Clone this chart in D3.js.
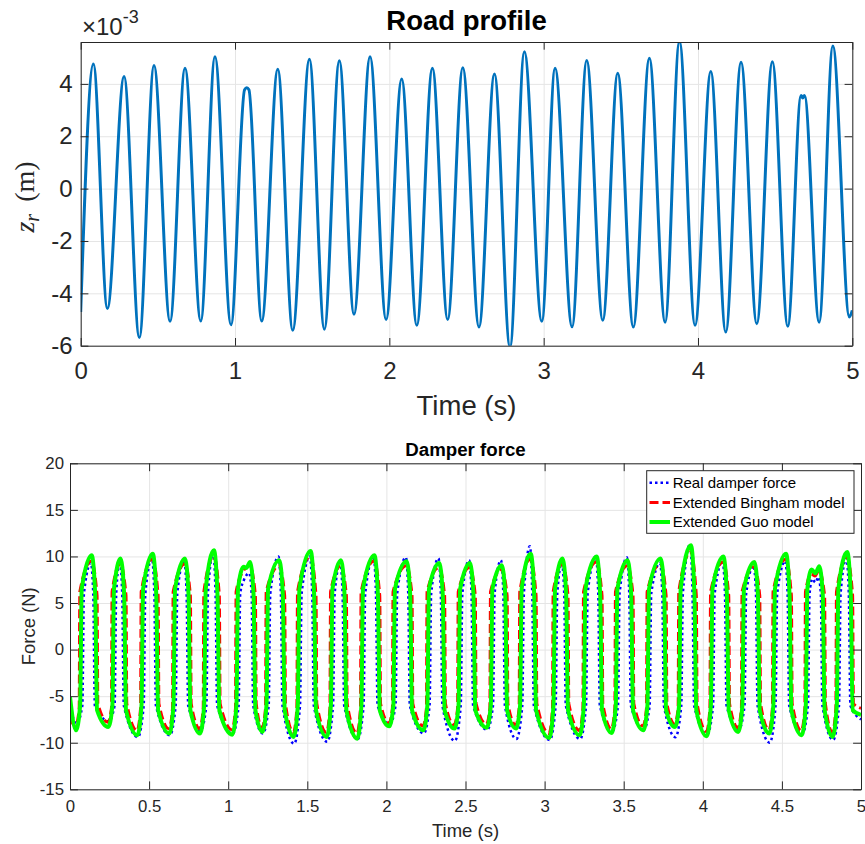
<!DOCTYPE html>
<html><head><meta charset="utf-8">
<script src="https://cdn.jsdelivr.net/npm/d3@7"></script>
<style>body{margin:0;background:#fff} svg{display:block}</style>
</head><body>
<svg id="c" width="865" height="844"></svg>
<script>
// ---------- DATA ----------
// Road profile z_r (x 1e-3 m) vs time (s)
const roadProfile = [
[0,-4.71],[0.082,4.76],[0.173,-4.58],[0.281,4.28],[0.380,-5.69],[0.475,4.70],[0.579,-5.07],[0.676,4.60],
[0.778,-5.06],[0.870,5.04],[0.974,-5.20],[1.062,3.78],[1.076,3.85],[1.090,3.78],[1.173,-5.06],[1.277,4.56],
[1.374,-5.41],[1.482,4.94],[1.579,-5.37],[1.676,4.88],[1.771,-4.80],[1.875,5.04],[1.979,-5.00],[2.080,4.19],
[2.178,-5.22],[2.279,4.60],[2.378,-5.00],[2.476,4.62],[2.581,-5.29],[2.681,4.38],[2.782,-6.05],[2.875,5.23],
[2.988,-5.07],[3.074,4.60],[3.184,-5.28],[3.279,4.89],[3.383,-5.03],[3.480,4.41],[3.581,-5.29],[3.685,4.98],
[3.787,-5.10],[3.880,5.62],[3.981,-5.22],[4.083,4.47],[4.180,-5.48],[4.279,4.83],[4.381,-5.16],[4.482,4.85],
[4.582,-5.26],[4.668,3.56],[4.679,3.46],[4.690,3.56],[4.785,-5.10],[4.874,5.45],[4.981,-4.90],[5.0,-4.65]
];

// Damper force (N) vs time (s)
const realForce = [
[0,-6.0],
[0.041,-8.0],[0.078,-6],[0.088,6],[0.132,9.3],[0.147,6],[0.157,-6],
[0.245,-7.7],[0.282,-6],[0.292,6],[0.315,9.5],[0.330,6],[0.340,-6],
[0.429,-9.4],[0.466,-6],[0.476,6],[0.518,9.8],[0.533,6],[0.543,-6],
[0.631,-9.2],[0.668,-6],[0.678,6],[0.722,9.6],[0.737,6],[0.747,-6],
[0.825,-8.7],[0.862,-6],[0.872,6],[0.905,10.4],[0.920,6],[0.930,-6],
[1.029,-9.0],[1.066,-6],[1.076,6],[1.100,7.5],[1.133,8.2],[1.148,6],[1.158,-6],
[1.219,-9.0],[1.256,-6],[1.266,6],[1.318,10.0],[1.333,6],[1.343,-6],
[1.417,-10.1],[1.454,-6],[1.464,6],[1.516,10.0],[1.531,6],[1.541,-6],
[1.626,-9.9],[1.663,-6],[1.673,6],[1.708,9.3],[1.723,6],[1.733,-6],
[1.819,-9.6],[1.856,-6],[1.866,6],[1.919,10.0],[1.934,6],[1.944,-6],
[2.021,-8.0],[2.058,-6],[2.068,6],[2.123,9.9],[2.138,6],[2.148,-6],
[2.236,-9.0],[2.273,-6],[2.283,6],[2.329,9.8],[2.344,6],[2.354,-6],
[2.433,-9.8],[2.470,-6],[2.480,6],[2.523,9.6],[2.538,6],[2.548,-6],
[2.637,-8.6],[2.674,-6],[2.684,6],[2.724,9.6],[2.739,6],[2.749,-6],
[2.822,-9.6],[2.859,-6],[2.869,6],[2.907,11.1],[2.922,6],[2.932,-6],
[3.033,-9.7],[3.070,-6],[3.080,6],[3.109,9.3],[3.124,6],[3.134,-6],
[3.225,-9.6],[3.262,-6],[3.272,6],[3.324,10.0],[3.339,6],[3.349,-6],
[3.427,-8.8],[3.464,-6],[3.474,6],[3.520,9.9],[3.535,6],[3.545,-6],
[3.627,-8.6],[3.664,-6],[3.674,6],[3.729,9.3],[3.744,6],[3.754,-6],
[3.827,-9.4],[3.864,-6],[3.874,6],[3.920,11.3],[3.935,6],[3.945,-6],
[4.028,-9.1],[4.065,-6],[4.075,6],[4.125,9.5],[4.140,6],[4.150,-6],
[4.227,-8.6],[4.264,-6],[4.274,6],[4.321,9.0],[4.336,6],[4.346,-6],
[4.423,-10.0],[4.460,-6],[4.470,6],[4.521,9.5],[4.536,6],[4.546,-6],
[4.628,-9.1],[4.665,-6],[4.675,6],[4.692,7.6],[4.712,7.2],[4.731,7.8],[4.746,6],[4.756,-6],
[4.824,-9.7],[4.861,-6],[4.871,6],[4.908,9.8],[4.923,6],[4.933,-6],[5.0,-7.5]
];

const binghamForce = [
[0,-7.5],
[0.036,-8.2],[0.058,-6.3],[0.062,6.2],[0.135,9.5],[0.171,5.8],[0.176,-5.8],
[0.240,-7.8],[0.262,-6.3],[0.266,6.2],[0.318,9.2],[0.354,5.8],[0.359,-5.8],
[0.424,-8.7],[0.446,-6.3],[0.450,6.2],[0.521,9.7],[0.557,5.8],[0.562,-5.8],
[0.626,-8.5],[0.648,-6.3],[0.652,6.2],[0.725,9.2],[0.761,5.8],[0.766,-5.8],
[0.820,-8.5],[0.842,-6.3],[0.846,6.2],[0.908,10.0],[0.944,5.8],[0.949,-5.8],
[1.024,-8.6],[1.046,-6.3],[1.050,6.2],[1.098,8.5],[1.136,9.0],[1.172,5.8],[1.177,-5.8],
[1.214,-8.4],[1.236,-6.3],[1.240,6.2],[1.321,9.0],[1.357,5.8],[1.362,-5.8],
[1.412,-8.9],[1.434,-6.3],[1.438,6.2],[1.519,10.0],[1.555,5.8],[1.560,-5.8],
[1.621,-8.9],[1.643,-6.3],[1.647,6.2],[1.711,9.0],[1.747,5.8],[1.752,-5.8],
[1.814,-9.0],[1.836,-6.3],[1.840,6.2],[1.922,9.5],[1.958,5.8],[1.963,-5.8],
[2.016,-7.9],[2.038,-6.3],[2.042,6.2],[2.126,9.0],[2.162,5.8],[2.167,-5.8],
[2.231,-8.2],[2.253,-6.3],[2.257,6.2],[2.332,8.8],[2.368,5.8],[2.373,-5.8],
[2.428,-8.1],[2.450,-6.3],[2.454,6.2],[2.526,8.8],[2.562,5.8],[2.567,-5.8],
[2.632,-8.0],[2.654,-6.3],[2.658,6.2],[2.727,8.6],[2.763,5.8],[2.768,-5.8],
[2.817,-8.1],[2.839,-6.3],[2.843,6.2],[2.910,9.7],[2.946,5.8],[2.951,-5.8],
[3.028,-9.0],[3.050,-6.3],[3.054,6.2],[3.112,9.2],[3.148,5.8],[3.153,-5.8],
[3.220,-8.7],[3.242,-6.3],[3.246,6.2],[3.327,9.4],[3.363,5.8],[3.368,-5.8],
[3.422,-8.5],[3.444,-6.3],[3.448,6.2],[3.523,9.0],[3.559,5.8],[3.564,-5.8],
[3.622,-8.2],[3.644,-6.3],[3.648,6.2],[3.732,9.2],[3.768,5.8],[3.773,-5.8],
[3.822,-8.0],[3.844,-6.3],[3.848,6.2],[3.923,10.5],[3.959,5.8],[3.964,-5.8],
[4.023,-8.8],[4.045,-6.3],[4.049,6.2],[4.128,9.4],[4.164,5.8],[4.169,-5.8],
[4.222,-8.4],[4.244,-6.3],[4.248,6.2],[4.324,8.9],[4.360,5.8],[4.365,-5.8],
[4.418,-8.6],[4.440,-6.3],[4.444,6.2],[4.524,9.7],[4.560,5.8],[4.565,-5.8],
[4.623,-8.7],[4.645,-6.3],[4.649,6.2],[4.686,8.1],[4.710,7.9],[4.734,8.5],[4.770,5.8],[4.775,-5.8],
[4.819,-8.9],[4.841,-6.3],[4.845,6.2],[4.911,9.9],[4.947,5.8],[4.952,-5.8],[5.0,-6.3]
];

const guoForce = [
[0,-5.1],
[0.038,-8.66],[0.064,-6],[0.074,6.5],[0.137,10.12],[0.159,6],[0.171,-6.5],
[0.242,-8.31],[0.268,-6],[0.278,6.5],[0.320,9.77],[0.342,6],[0.354,-6.5],
[0.426,-9.2],[0.452,-6],[0.462,6.5],[0.523,10.3],[0.545,6],[0.557,-6.5],
[0.628,-9.02],[0.654,-6],[0.664,6.5],[0.727,9.77],[0.749,6],[0.761,-6.5],
[0.822,-9.02],[0.848,-6],[0.858,6.5],[0.910,10.66],[0.932,6],[0.944,-6.5],
[1.026,-9.13],[1.052,-6],[1.062,6.5],[1.098,8.9],[1.114,8.75],[1.138,9.41],[1.160,6],[1.172,-6.5],
[1.216,-8.84],[1.242,-6],[1.252,6.5],[1.323,9.59],[1.345,6],[1.357,-6.5],
[1.414,-9.38],[1.440,-6],[1.450,6.5],[1.521,10.59],[1.543,6],[1.555,-6.5],
[1.623,-9.38],[1.649,-6],[1.659,6.5],[1.713,9.59],[1.735,6],[1.747,-6.5],
[1.816,-9.56],[1.842,-6],[1.852,6.5],[1.924,10.12],[1.946,6],[1.958,-6.5],
[2.018,-8.24],[2.044,-6],[2.054,6.5],[2.128,9.48],[2.150,6],[2.162,-6.5],
[2.233,-8.66],[2.259,-6],[2.269,6.5],[2.334,9.3],[2.356,6],[2.368,-6.5],
[2.430,-8.48],[2.456,-6],[2.466,6.5],[2.528,9.3],[2.550,6],[2.562,-6.5],
[2.634,-8.38],[2.660,-6],[2.670,6.5],[2.729,9.05],[2.751,6],[2.763,-6.5],
[2.819,-8.48],[2.845,-6],[2.855,6.5],[2.912,10.3],[2.934,6],[2.946,-6.5],
[3.030,-9.49],[3.056,-6],[3.066,6.5],[3.114,9.77],[3.136,6],[3.148,-6.5],
[3.222,-9.2],[3.248,-6],[3.258,6.5],[3.329,10.0],[3.351,6],[3.363,-6.5],
[3.424,-8.95],[3.450,-6],[3.460,6.5],[3.525,9.59],[3.547,6],[3.559,-6.5],
[3.624,-8.66],[3.650,-6],[3.660,6.5],[3.734,9.77],[3.756,6],[3.768,-6.5],
[3.824,-8.31],[3.850,-6],[3.860,6.5],[3.925,11.2],[3.947,6],[3.959,-6.5],
[4.025,-9.31],[4.051,-6],[4.061,6.5],[4.130,10.0],[4.152,6],[4.164,-6.5],
[4.224,-8.84],[4.250,-6],[4.260,6.5],[4.326,9.41],[4.348,6],[4.360,-6.5],
[4.420,-9.02],[4.446,-6],[4.456,6.5],[4.526,10.3],[4.548,6],[4.560,-6.5],
[4.625,-9.2],[4.651,-6],[4.661,6.5],[4.688,8.6],[4.712,8.2],[4.736,8.94],[4.758,6],[4.770,-6.5],
[4.821,-9.38],[4.847,-6],[4.857,6.5],[4.913,10.48],[4.935,6],[4.947,-6.5],[5.0,-7.0]
];

const topXTicks = [0,1,2,3,4,5];
const topYTicks = [-6,-4,-2,0,2,4];
const botXTicks = [0,0.5,1,1.5,2,2.5,3,3.5,4,4.5,5];
const botYTicks = [-15,-10,-5,0,5,10,15,20];
const legendLabels = ["Real damper force","Extended Bingham model","Extended Guo model"];

// ---------- DRAW ----------
const svg = d3.select("#c");
const FONT = "'Liberation Sans', Arial, Helvetica, sans-serif";
const AX = "#262626", GRID = "#e5e5e5";
const fmt = d => String(d);

function panel(o){
  const x = d3.scaleLinear().domain(o.xDom).range([o.x0,o.x1]);
  const y = d3.scaleLinear().domain(o.yDom).range([o.y1,o.y0]);
  const g = svg.append("g");
  const w = o.x1-o.x0, h = o.y1-o.y0;
  const gx = g.append("g").attr("transform",`translate(0,${o.y1})`)
    .call(d3.axisBottom(x).tickValues(o.xTicks).tickSize(-h).tickFormat(""));
  const gy = g.append("g").attr("transform",`translate(${o.x0},0)`)
    .call(d3.axisLeft(y).tickValues(o.yTicks).tickSize(-w).tickFormat(""));
  [gx,gy].forEach(s=>{ s.select(".domain").remove(); s.selectAll("line").attr("stroke",GRID).attr("stroke-width",1); });
  const cid = "clip"+o.id;
  svg.append("clipPath").attr("id",cid).append("rect").attr("x",o.x0).attr("y",o.y0).attr("width",w).attr("height",h);
  const plot = g.append("g").attr("clip-path",`url(#${cid})`);
  const ax = [
    g.append("g").attr("transform",`translate(0,${o.y1})`).call(d3.axisBottom(x).tickValues(o.xTicks).tickFormat(fmt).tickSize(-o.tl).tickSizeOuter(0).tickPadding(o.xPad)),
    g.append("g").attr("transform",`translate(${o.x0},0)`).call(d3.axisLeft(y).tickValues(o.yTicks).tickFormat(fmt).tickSize(-o.tl).tickSizeOuter(0).tickPadding(o.yPad)),
    g.append("g").attr("transform",`translate(0,${o.y0})`).call(d3.axisTop(x).tickValues(o.xTicks).tickFormat("").tickSize(-o.tl).tickSizeOuter(0)),
    g.append("g").attr("transform",`translate(${o.x1},0)`).call(d3.axisRight(y).tickValues(o.yTicks).tickFormat("").tickSize(-o.tl).tickSizeOuter(0))
  ];
  ax.forEach(s=>{
    s.select(".domain").attr("stroke",AX).attr("stroke-width",1);
    s.selectAll(".tick line").attr("stroke",AX).attr("stroke-width",1);
    s.selectAll("text").attr("fill",AX).style("font-family",FONT).style("font-size",o.tf+"px");
  });
  return {x,y,plot,g};
}

// ---- Top panel ----
const P1 = panel({id:1,x0:80.7,x1:852.3,y0:42,y1:345.7,xDom:[0,5],yDom:[-6,5.6],
  xTicks:topXTicks,yTicks:topYTicks,tl:7.7,tf:24,xPad:16.3,yPad:8});
P1.plot.append("path").datum(roadProfile)
  .attr("fill","none").attr("stroke","#0072bd").attr("stroke-width",3).attr("stroke-linejoin","round")
  .attr("d",d3.line().x(d=>P1.x(d[0])).y(d=>P1.y(d[1])).curve(d3.curveMonotoneX));

svg.append("text").attr("x",466.5).attr("y",29.5).attr("text-anchor","middle")
  .style("font-family",FONT).style("font-size","27.5px").style("font-weight","bold").attr("fill","#000")
  .text("Road profile");
svg.append("text").attr("x",466.5).attr("y",414.8).attr("text-anchor","middle")
  .style("font-family",FONT).style("font-size","27.5px").attr("fill",AX).text("Time (s)");
const ex = svg.append("text").attr("x",82).attr("y",35).style("font-family",FONT).attr("fill",AX);
ex.append("tspan").style("font-size","24px").text("\u00d710");
ex.append("tspan").attr("dy",-12).style("font-size","18px").text("-3");
const yl = svg.append("text").attr("transform","translate(34,197) rotate(-90)").attr("text-anchor","middle")
  .style("font-family","'Liberation Serif','Times New Roman',serif").style("font-size","28px").attr("fill",AX);
yl.append("tspan").style("font-style","italic").text("z");
yl.append("tspan").style("font-style","italic").style("font-size","20px").attr("dy",5).text("r");
yl.append("tspan").attr("dy",-5).attr("dx",12).text("(m)");

// ---- Bottom panel ----
const P2 = panel({id:2,x0:70,x1:861,y0:463.3,y1:789.3,xDom:[0,5],yDom:[-15,20],
  xTicks:botXTicks,yTicks:botYTicks,tl:7.9,tf:16.8,xPad:10.7,yPad:6});
const line2 = d3.line().x(d=>P2.x(d[0])).y(d=>P2.y(d[1])).curve(d3.curveMonotoneX);
const series = [
  {data:realForce, color:"#0000ff", w:2.5, dash:"2.5,3"},
  {data:binghamForce, color:"#ff0000", w:3, dash:"9,4"},
  {data:guoForce, color:"#00ff00", w:4, dash:null}
];
series.forEach(s=>{
  P2.plot.append("path").datum(s.data).attr("fill","none").attr("stroke",s.color)
    .attr("stroke-width",s.w).attr("stroke-dasharray",s.dash).attr("stroke-linejoin","round")
    .attr("d",line2);
});
svg.append("text").attr("x",465.5).attr("y",456).attr("text-anchor","middle")
  .style("font-family",FONT).style("font-size","18.7px").style("font-weight","bold").attr("fill","#000")
  .text("Damper force");
svg.append("text").attr("x",465.5).attr("y",836.5).attr("text-anchor","middle")
  .style("font-family",FONT).style("font-size","18.5px").attr("fill",AX).text("Time (s)");
svg.append("text").attr("transform","translate(34.5,626.3) rotate(-90)").attr("text-anchor","middle")
  .style("font-family",FONT).style("font-size","18.5px").attr("fill",AX).text("Force (N)");

// legend
const lg = svg.append("g");
lg.append("rect").attr("x",646.7).attr("y",470.7).attr("width",207.3).attr("height",62.6)
  .attr("fill","#fff").attr("stroke",AX).attr("stroke-width",1);
const rowsY = [482.7,502.4,522];
series.forEach((s,i)=>{
  lg.append("line").attr("x1",649.5).attr("x2",670).attr("y1",rowsY[i]).attr("y2",rowsY[i])
    .attr("stroke",s.color).attr("stroke-width",s.w).attr("stroke-dasharray",s.dash);
  lg.append("text").attr("x",672.7).attr("y",rowsY[i]+5.4)
    .style("font-family",FONT).style("font-size","15px").attr("fill","#000").text(legendLabels[i]);
});
</script>
</body></html>
